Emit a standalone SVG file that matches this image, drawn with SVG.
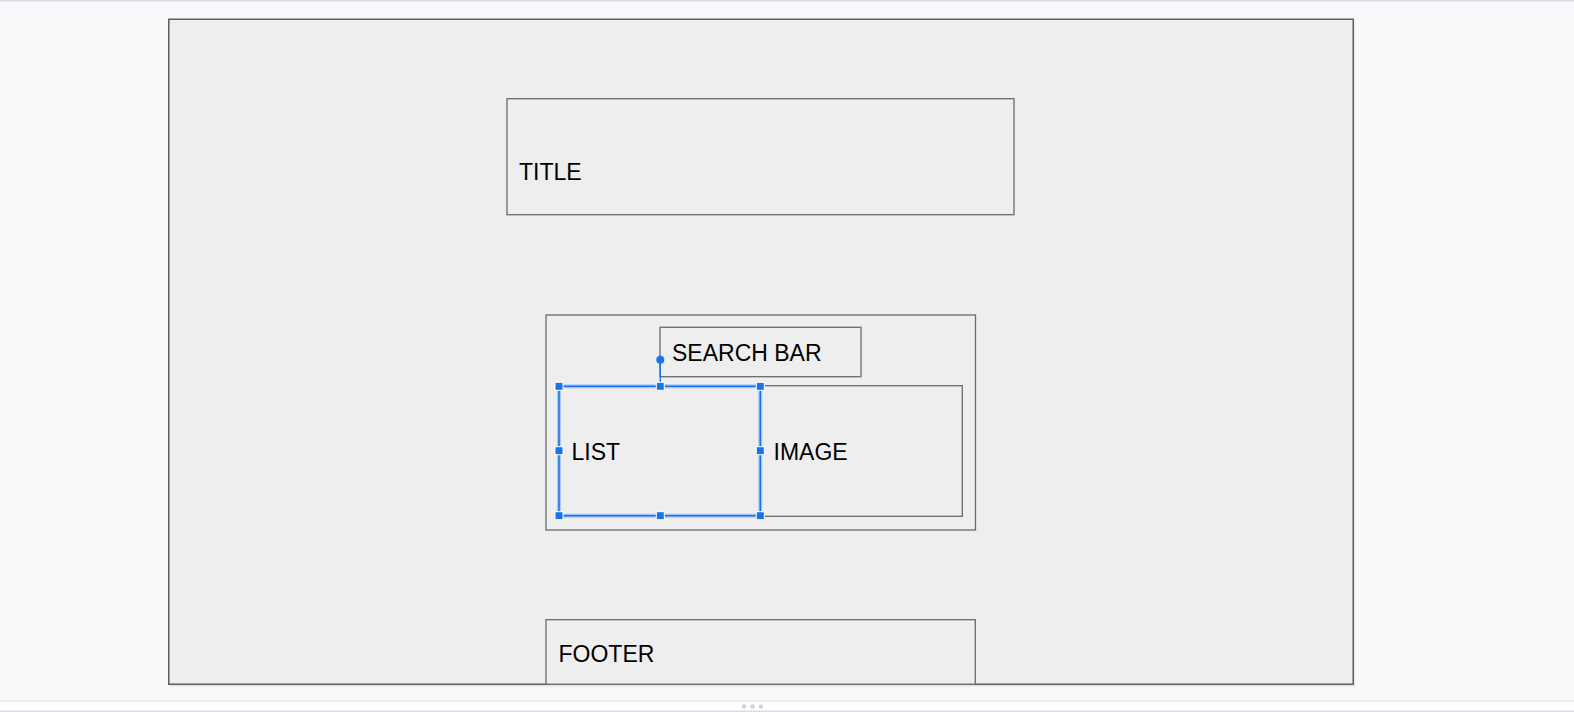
<svg xmlns="http://www.w3.org/2000/svg" width="1574" height="712" viewBox="0 0 1574 712">
<style>
.box{fill:#eeeeee;stroke:#6a6a6a;stroke-width:1.3}
.lbl{font-family:"Liberation Sans",Arial,sans-serif;font-size:23px;fill:#000}
.h{fill:#1a73e8;stroke:#ffffff;stroke-width:1}
</style>
<rect x="0" y="0" width="1574" height="712" fill="#f8f9fa"/>
<rect x="0" y="0" width="1574" height="1.5" fill="#dadce0"/>
<g id="bottom-bar">
<rect x="0" y="701" width="1574" height="11" fill="#ffffff"/>
<rect x="0" y="700.5" width="1574" height="1" fill="#dadce0"/>
<rect x="0" y="710.5" width="1574" height="1.5" fill="#dadce0"/>
<circle cx="744" cy="706.5" r="2.2" fill="#d0d3d6"/>
<circle cx="752.5" cy="706.5" r="2.2" fill="#d0d3d6"/>
<circle cx="761" cy="706.5" r="2.2" fill="#d0d3d6"/>
</g>
<g id="canvas">
<rect x="170" y="21" width="1185" height="666" fill="#000" opacity="0.06"/>
<rect x="168.75" y="19.25" width="1184.5" height="665" fill="#eeeeee" stroke="#5f5f5f" stroke-width="1.5"/>
</g>
<g id="title">
<rect class="box" x="507" y="98.7" width="507" height="116"/>
<text class="lbl" x="519" y="179.5">TITLE</text>
</g>
<g id="content">
<rect class="box" x="546" y="315" width="429.5" height="215"/>
</g>
<g id="search-bar">
<rect class="box" x="660" y="327.3" width="201" height="49.4"/>
<text class="lbl" x="672" y="360.7">SEARCH BAR</text>
</g>
<g id="image">
<rect class="box" x="760" y="385.7" width="202.3" height="130.6"/>
<text class="lbl" x="773.5" y="460">IMAGE</text>
</g>
<g id="list">
<rect x="559" y="386.3" width="201.3" height="129.4" fill="#eeeeee"/>
<text class="lbl" x="571.5" y="460">LIST</text>
</g>
<g id="footer">
<rect class="box" x="546" y="619.7" width="429.3" height="64.5"/>
<text class="lbl" x="558.5" y="661.7">FOOTER</text>
</g>
<g id="selection">
<rect x="559" y="386.3" width="201.3" height="129.4" fill="none" stroke="#a8c7fa" stroke-width="4"/>
<rect x="559" y="386.3" width="201.3" height="129.4" fill="none" stroke="#1a73e8" stroke-width="1.5"/>
<line x1="660.3" y1="359.7" x2="660.3" y2="386.3" stroke="#1a73e8" stroke-width="1.3"/>
<circle cx="660.3" cy="359.7" r="4" fill="#1a73e8"/>
<rect class="h" x="555" y="382.3" width="8" height="8"/>
<rect class="h" x="656.3" y="382.3" width="8" height="8"/>
<rect class="h" x="756.3" y="382.3" width="8" height="8"/>
<rect class="h" x="555" y="446.7" width="8" height="8"/>
<rect class="h" x="756.3" y="446.7" width="8" height="8"/>
<rect class="h" x="555" y="511.7" width="8" height="8"/>
<rect class="h" x="656.3" y="511.7" width="8" height="8"/>
<rect class="h" x="756.3" y="511.7" width="8" height="8"/>
</g>
</svg>
